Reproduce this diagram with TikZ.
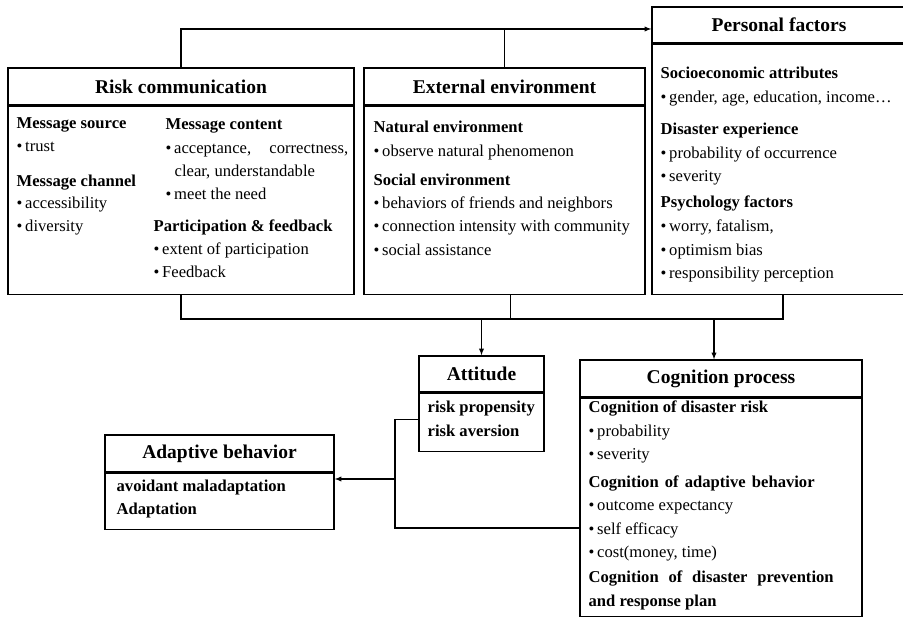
\documentclass[tikz,border=0pt]{standalone}
\usepackage{fontspec}
\setmainfont{Liberation Serif}
\tikzset{%
    box title/.style={
        draw,
        inner sep=0pt,
        font=\fontsize{19.5}{22}\selectfont\bfseries
    },
    box body/.style={
        draw,
        inner sep=0pt
    },
    every line/.style={
        anchor=base west,
        inner sep=0pt,
        font=\fontsize{16.6}{20}\selectfont
    },
    line h/.style={
        font=\fontsize{16.6}{20}\selectfont\bfseries
    },
    line i/.style={
        execute at begin node={\textbullet\,}
    },
}
\begin{document}
\begin{tikzpicture}[x=1pt, y=-1pt, >=latex, line width=1.3pt]
    \useasboundingbox (0,0) rectangle (903,617);

        \foreach \nm/\txt/\x/\y/\w/\hgt/\bdy in {rc/Risk communication/181/86.5/346/37/188,
                ee/External environment/504.5/86.5/281/37/188,
                pf/Personal factors/779/25/254/36/250,
                att/Attitude/481.5/374/125/36/58,
                cog/Cognition process/721/378.5/282/37/218,
                ab/Adaptive behavior/219.5/453.5/229/37/56}
        {
            \node [box title, minimum width=\w pt, minimum height=\hgt pt] (\nm-title) at (\x,\y) {\txt};
            \node [box body, minimum width=\w pt, minimum height=\bdy pt, anchor=north] (\nm) at (\nm-title.south) {};
        }

        \foreach \s/\txt/\x/\y [count=\i] in {h/Message source/16/129, i/trust/16/152,
                h/Message channel/16/187, i/accessibility/16/209, i/diversity/16/232,
                h/Message content/165/130, i/{\makebox[174pt][s]{acceptance, correctness,}}/165/154,
                c/{clear, understandable}/174/177, i/meet the need/165/200,
                h/Participation \& feedback/153/232, i/extent of participation/153/255, i/Feedback/153/278}
            \node [every line/.try, line \s/.try] (rc-line\i) at (\x,\y) {\txt};

        \foreach \s/\txt/\y [count=\i] in {h/Natural environment/133, i/observe natural phenomenon/157,
                h/Social environment/186, i/behaviors of friends and neighbors/209,
                i/connection intensity with community/232, i/social assistance/256}
            \node [every line/.try, line \s/.try] (ee-line\i) at (373,\y) {\txt};

        \foreach \s/\txt/\y [count=\i] in {h/Socioeconomic attributes/79, i/{gender, age, education, income…}/103,
                h/Disaster experience/135, i/probability of occurrence/159, i/severity/182,
                h/Psychology factors/208, i/{worry, fatalism,}/232, i/optimism bias/256,
                i/responsibility perception/279}
            \node [every line/.try, line \s/.try] (pf-line\i) at (660,\y) {\txt};

        \foreach \txt/\y [count=\i] in {risk propensity/413, risk aversion/437}
            \node [every line/.try, line h] (att-line\i) at (427,\y) {\txt};

        \foreach \s/\txt/\y [count=\i] in {h/Cognition of disaster risk/413, i/probability/437, i/severity/460,
                h/{\makebox[226pt][s]{Cognition of adaptive behavior}}/488, i/outcome expectancy/511, i/self efficacy/535,
                i/{cost(money, time)}/558, h/{\makebox[245pt][s]{Cognition of disaster prevention}}/582,
                h/and response plan/606}
            \node [every line/.try, line \s/.try] (cog-line\i) at (588,\y) {\txt};

        \foreach \txt/\y [count=\i] in {avoidant maladaptation/492, Adaptation/515}
            \node [every line/.try, line h] (ab-line\i) at (116,\y) {\txt};

        % connectors
        \coordinate (top) at (0,29);
        \coordinate (bot) at (0,319);
        \coordinate (low) at (395,528);
        \coordinate (fb) at (395,479);

        \draw [->] (rc-title.north) |- (pf-title.west |- top);
        \draw (ee-title.north) -- (ee-title.north |- top);

        \draw (rc.south) |- ([xshift=4pt]pf.south |- bot) -- ([xshift=4pt]pf.south);
        \draw ([xshift=6pt]ee.south) -- ([xshift=6pt]ee.south |- bot);
        \draw [->] (att-title.north |- bot) -- (att-title.north);
        \draw [->] ([xshift=-7pt]cog-title.north |- bot) -- ([xshift=-7pt]cog-title.north);

        \draw ([yshift=3pt]att.west) -| (low) -- (low -| cog.west);
        \draw [->] (fb) -- (fb -| ab.east);

\end{tikzpicture}
\end{document}
